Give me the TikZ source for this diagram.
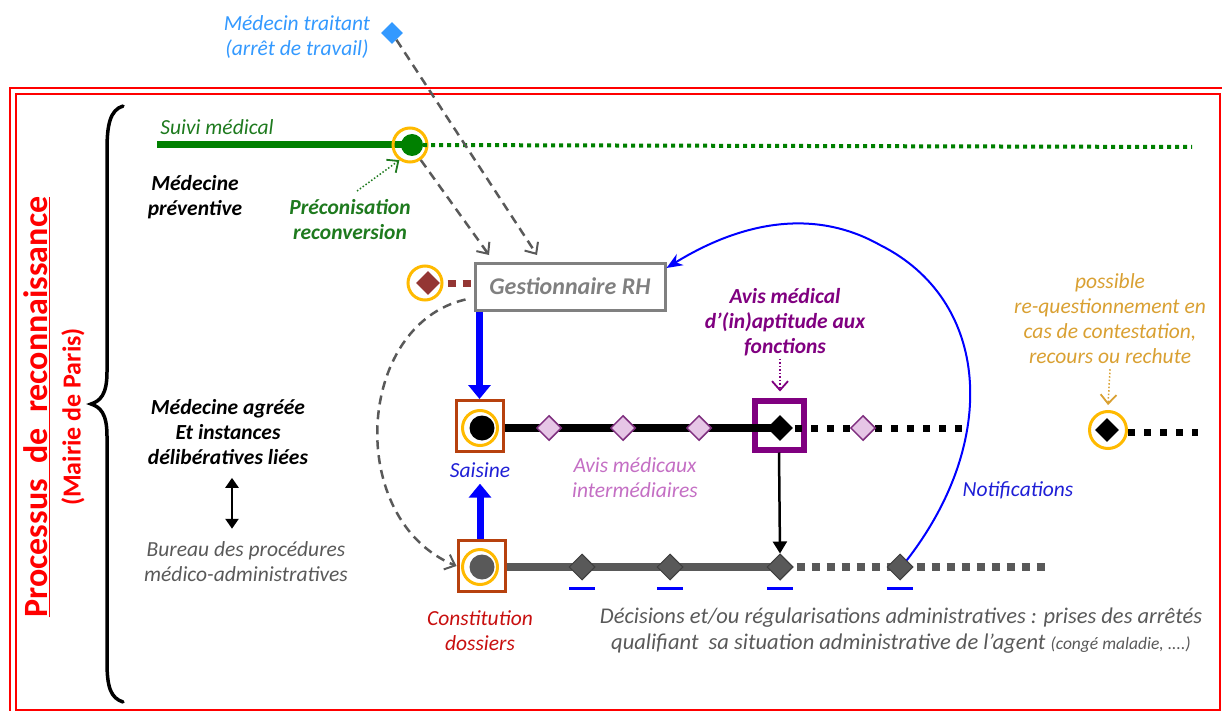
\documentclass[tikz,border=0pt]{standalone}
\usepackage{fontspec}
\setmainfont{Carlito}
\usetikzlibrary{arrows.meta,shapes.geometric,calc}
\definecolor{frred}{HTML}{FF0000}
\definecolor{mtblue}{HTML}{3399FF}
\definecolor{gline}{HTML}{008000}
\definecolor{gtext}{HTML}{1E7A1E}
\definecolor{ringor}{HTML}{FFBA00}
\definecolor{brn}{HTML}{943634}
\definecolor{boxred}{HTML}{B7410E}
\definecolor{conred}{HTML}{C80F0F}
\definecolor{purp}{HTML}{800080}
\definecolor{lpfill}{HTML}{E6C6E6}
\definecolor{lpborder}{HTML}{7F2F7F}
\definecolor{lptext}{HTML}{C46FC4}
\definecolor{gold}{HTML}{D9A032}
\definecolor{dgray}{HTML}{595959}
\definecolor{mgray}{HTML}{808080}
\definecolor{bblue}{HTML}{0000FF}
\definecolor{tblue}{HTML}{1F1FD6}
\begin{document}
\begin{tikzpicture}[x=1pt,y=-1pt,
  every node/.style={font=\fontsize{21.5}{25}\selectfont\itshape, inner sep=0pt, align=center},
  bold/.style={font=\fontsize{21.5}{25}\selectfont\bfseries\itshape},
  ring/.style={circle, draw=ringor, line width=3, minimum size=34, inner sep=0pt},
  dia/.style={diamond, inner sep=0pt, minimum size=#1},
  lpdia/.style={diamond, inner sep=0pt, minimum size=25, fill=lpfill, draw=lpborder, line width=1.5},
  gdia/.style={diamond, inner sep=0pt, minimum size=26, fill=dgray, draw=dgray!70!black, line width=1},
  stepbox/.style={draw=boxred, line width=3, minimum width=47, minimum height=51, inner sep=0pt},
  gdash/.style={dgray, line width=2.5, dash pattern=on 9 off 6, -{Straight Barb[length=9,width=16,line width=2]}},
  vtip/.style={-{Straight Barb[length=9,width=16,line width=1.8]}},
  uline/.style={bblue, line width=2.5}
]
\useasboundingbox (0,0) rectangle (1222,711);
% frame
\draw[frred, line width=2.5] (10,88) rectangle (1228,718);
\draw[frred, line width=2] (16,94) rectangle (1220,710);
% brace
\draw[line width=3.5, line cap=round] (123,106) .. controls (110,110) and (107,125) .. (107,150) -- (107,372)
  .. controls (107,395) and (100,401) .. (91,404) .. controls (100,407) and (107,413) .. (107,436)
  -- (107,662) .. controls (107,688) and (111,698) .. (123,702);
% rotated titles
\node[rotate=90, text=frred, font=\fontsize{34}{36}\selectfont\bfseries] (proc) at (37,407) {\underline{Processus\ \ de\ \ reconnaissance}};
\node[rotate=90, text=frred, font=\fontsize{26}{28}\selectfont\bfseries] (mairie) at (73,417) {(Mairie de Paris)};
% left labels
\node[bold] (mprev) at (195,197) {Médecine\\préventive};
\node[bold] (magree) at (228,432) {Médecine agréée\\Et instances\\délibératives liées};
\node[text=dgray] (bureau) at (246,562) {Bureau des procédures\\médico-administratives};
\draw[line width=2.5, {Triangle[length=10,width=13]}-{Triangle[length=10,width=13]}] ($(magree.south)+(4,13)$) -- ($(bureau.north)+(-14,-13)$);
% medecin traitant
\node[text=mtblue] (mt) at (297,37) {Médecin traitant\\(arrêt de travail)};
\node[dia=22, fill=mtblue] (mtd) at (392,33) {};
% suivi medical
\node[text=gtext] (suivi) at (217,127) {Suivi médical};
\node[circle, fill=gline, minimum size=22, inner sep=0pt] (gdot) at (412,145) {};
\coordinate (gstart) at (157,145);
\coordinate (gend) at (1192,147);
\draw[gline, line width=7] (gstart) -- (gdot.center);
\node[ring] (gring) at (410,145) {};
\draw[gline, line width=4, dash pattern=on 4 off 4] (gdot.east) -- (gend);
\node[bold, text=gtext] (prec) at (350,220) {Préconisation\\reconversion};
\coordinate (precA) at (357,191);
\draw[gtext, line width=1.5, dash pattern=on 1.5 off 2, vtip] (precA) -- (gring.235);
% gestionnaire
\node[draw=mgray, line width=3, minimum width=190, minimum height=47, font=\fontsize{24}{26}\selectfont\bfseries\itshape, text=mgray] (grh) at (570,286.5) {Gestionnaire RH};
\node[dia=24, fill=brn] (bd) at (428,283) {};
\node[ring] (bring) at (425,283) {};
\draw[brn, line width=7, dash pattern=on 8 off 7, shorten <=4, shorten >=3] (bring.east) -- (grh.west |- bring.east);
\coordinate (grhA) at (489,255);
\coordinate (grhB) at (537,255);
\draw[gdash] (gring) -- (grhA);
\draw[gdash] (mtd) -- (grhB);
% saisine line
\node[stepbox] (sbox) at (479.5,426) {};
\node[ring, minimum size=35] (sring) at (480,428) {};
\node[circle, fill=black, minimum size=25, inner sep=0pt] (sdot) at (482,428) {};
\node[text=tblue] (sais) at (480,470) {Saisine};
\draw[bblue, line width=7, -{Triangle[length=14,width=22]}] (grh.south -| sbox.north) -- (sbox.north);
\node[draw=purp, line width=6, minimum width=49, minimum height=49, inner sep=0pt] (pbox) at (779,425) {};
\node[dia=26, fill=black] (bdia) at (780,428) {};
\draw[line width=8] (sbox.east |- sdot) -- (bdia.center);
\node[lpdia] (lp1) at (549,428) {};
\node[lpdia] (lp2) at (623,428) {};
\node[lpdia] (lp3) at (699,428) {};
\coordinate (bend) at (965,428);
\draw[line width=7, dash pattern=on 7 off 9] ($(bdia.east)+(2,0)$) -- (bend);
\node[lpdia] (lp4) at (863,428) {};
\node[bold, text=purp] (avis) at (785,322) {Avis médical\\d’(in)aptitude aux\\fonctions};
\draw[purp, line width=1.5, dash pattern=on 1.5 off 2, vtip] ($(avis.south)+(-5,3)$) -- ($(pbox.north)+(1,-6)$);
\node[text=lptext] (avint) at (635,478) {Avis médicaux\\intermédiaires};
% constitution line
\node[stepbox] (cbox) at (481.5,566) {};
\node[ring, minimum size=35] (cring) at (480,567) {};
\node[circle, fill=dgray, minimum size=25, inner sep=0pt] (cdot) at (482,567) {};
\node[gdia] (g3) at (780,567) {};
\draw[dgray, line width=8] (cbox.east |- cdot) -- (g3.center);
\node[gdia] (g1) at (582,567) {};
\node[gdia] (g2) at (670,567) {};
\node[gdia] (g3b) at (780,567) {};
\coordinate (gend2) at (1045,567);
\draw[dgray, line width=8, dash pattern=on 8 off 7] ($(g3.east)+(3,0)$) -- (gend2);
\node[gdia] (g4) at (900,567) {};
\foreach \n in {g1,g2,g3,g4} {\draw[uline] ($(\n.south)+(-13,8)$) -- ($(\n.south)+(13,8)$);}
\draw[line width=2.5, -{Triangle[length=12,width=14]}] (pbox.south) -- (g3b.north);
\draw[bblue, line width=7, -{Triangle[length=14,width=22]}] (cbox.north -| sais) -- ($(sais.south)+(0,6)$);
\node[text=conred] (const) at (480,631) {Constitution\\dossiers};
\node[text=dgray, font=\fontsize{22.5}{26}\selectfont\itshape] (decis) at (901,631) {Décisions et/ou régularisations administratives : prises des arrêtés\\qualifiant\ \ sa situation administrative de l’agent {\fontsize{17.5}{26}\selectfont(congé maladie, ....)}};
% dashed curve gestionnaire -> constitution
\coordinate (cs) at ($(grh.south west)+(-8,-12)$);
\draw[gdash] (cs) .. controls (355,325) and (345,520) .. (cbox.west);
% notifications
\node[text=tblue] (notif) at (1018,490) {Notifications};
\draw[bblue, line width=2, -{Stealth[length=16,width=13]}] (g4.north east) .. controls (1000,440) and (990,300) .. (880,245) .. controls (800,200) and (720,235) .. (grh.north east |- 0,268);
% possible re-questionnement
\node[text=gold] (poss) at (1110,319) {possible\\re-questionnement en\\cas de contestation,\\recours ou rechute};
\node[ring, minimum size=37] (oring) at (1108,430) {};
\node[dia=24, fill=black] (odia) at (1107,430) {};
\coordinate (oend) at (1198,432);
\draw[line width=7, dash pattern=on 7 off 9] ($(oring.east)+(0,2)$) -- (oend);
\draw[gold, line width=1.5, dash pattern=on 1.5 off 2, vtip] ($(poss.south)+(0,5)$) -- ($(oring.north)+(0,-5)$);
\end{tikzpicture}
\end{document}
